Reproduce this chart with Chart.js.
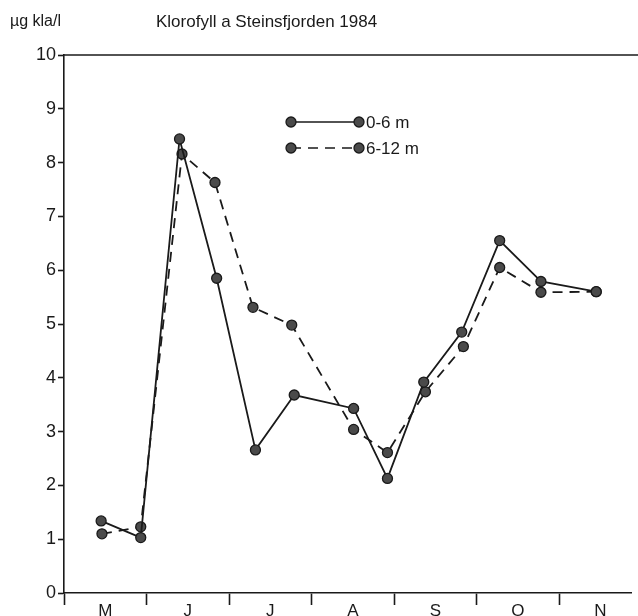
<!DOCTYPE html>
<html>
<head>
<meta charset="utf-8">
<script src="https://cdn.jsdelivr.net/npm/chart.js@4"></script>
<style>
  html, body { margin: 0; padding: 0; background: #fff; }
  #wrap { width: 638px; height: 616px; position: relative; }
</style>
</head>
<body>
<div id="wrap"><canvas id="c" width="638" height="616"></canvas></div>
<script>
// Month letters (May..Nov); x is in months since 1 May 1984
const months = ['M', 'J', 'J', 'A', 'S', 'O', 'N'];
const yTicks = [0, 1, 2, 3, 4, 5, 6, 7, 8, 9, 10];

// 0-6 m series
const xShallow = [0.45, 0.93, 1.40, 1.85, 2.32, 2.79, 3.51, 3.92, 4.36, 4.82, 5.28, 5.78, 6.45];
const yShallow = [1.34, 1.03, 8.44, 5.85, 2.66, 3.68, 3.43, 2.13, 3.92, 4.85, 6.55, 5.79, 5.60];

// 6-12 m series
const xDeep = [0.46, 0.93, 1.43, 1.83, 2.29, 2.76, 3.51, 3.92, 4.38, 4.84, 5.28, 5.78, 6.45];
const yDeep = [1.10, 1.23, 8.16, 7.63, 5.31, 4.98, 3.04, 2.61, 3.74, 4.58, 6.05, 5.59, 5.60];

const seriesNames = ['0-6 m', '6-12 m'];
const titleText = 'Klorofyll a Steinsfjorden 1984';
const unitText = '\u00b5g kla/l';

const INK = '#1a1a1a';
const FILL = '#4a4a4a';
const FONT = '"Liberation Sans", Arial, sans-serif';

function pts(xs, ys) { return xs.map((x, i) => ({ x: x, y: ys[i] })); }

const decor = {
  id: 'decor',
  afterDraw(chart) {
    const ctx = chart.ctx;
    const a = chart.chartArea;
    ctx.save();
    // top frame line
    ctx.strokeStyle = INK;
    ctx.lineWidth = 1.6;
    ctx.beginPath();
    ctx.moveTo(a.left, a.top);
    ctx.lineTo(chart.width, a.top);
    ctx.stroke();
    // titles
    ctx.fillStyle = INK;
    ctx.textBaseline = 'middle';
    ctx.textAlign = 'left';
    ctx.font = '16px ' + FONT;
    ctx.fillText(unitText, 10, 22);
    ctx.font = '17px ' + FONT;
    ctx.fillText(titleText, 156, 22);
    // legend
    const rows = [{ y: 122, dash: [] }, { y: 148, dash: [10, 7] }];
    rows.forEach((r, i) => {
      const x0 = 291, x1 = 359;
      ctx.setLineDash(r.dash);
      ctx.lineWidth = 1.7;
      ctx.strokeStyle = INK;
      ctx.beginPath();
      ctx.moveTo(x0, r.y);
      ctx.lineTo(x1, r.y);
      ctx.stroke();
      ctx.setLineDash([]);
      [x0, x1].forEach(px => {
        ctx.beginPath();
        ctx.arc(px, r.y, 5, 0, Math.PI * 2);
        ctx.fillStyle = FILL;
        ctx.fill();
        ctx.lineWidth = 1.3;
        ctx.strokeStyle = INK;
        ctx.stroke();
      });
      ctx.fillStyle = INK;
      ctx.font = '17px ' + FONT;
      ctx.fillText(seriesNames[i], 366, r.y + 1);
    });
    ctx.restore();
  }
};

new Chart(document.getElementById('c'), {
  type: 'line',
  data: {
    datasets: [
      {
        label: seriesNames[0],
        data: pts(xShallow, yShallow),
        borderColor: INK,
        borderWidth: 1.8,
        pointRadius: 5,
        pointBackgroundColor: FILL,
        pointBorderColor: INK,
        pointBorderWidth: 1.3,
        tension: 0,
        fill: false
      },
      {
        label: seriesNames[1],
        data: pts(xDeep, yDeep),
        borderColor: INK,
        borderWidth: 1.8,
        borderDash: [10, 7],
        pointRadius: 5,
        pointBackgroundColor: FILL,
        pointBorderColor: INK,
        pointBorderWidth: 1.3,
        tension: 0,
        fill: false
      }
    ]
  },
  options: {
    responsive: false,
    animation: false,
    layout: { padding: { top: 55, right: 0, left: 0, bottom: 0 } },
    plugins: {
      legend: { display: false },
      title: { display: false },
      tooltip: { enabled: false }
    },
    scales: {
      x: {
        type: 'linear',
        min: 0,
        max: 6.88,
        afterBuildTicks(scale) {
          const t = [];
          for (let i = 0; i < months.length; i++) {
            t.push({ value: i });
            t.push({ value: i + 0.5 });
          }
          scale.ticks = t;
        },
        afterFit(scale) { scale.height = 23; },
        ticks: {
          autoSkip: false,
          maxRotation: 0,
          padding: -4,
          color: INK,
          font: { family: FONT, size: 17 },
          callback(v) {
            const i = Math.floor(v);
            return (Math.abs(v - i - 0.5) < 1e-6 && months[i]) ? months[i] : '';
          }
        },
        grid: {
          drawOnChartArea: false,
          tickLength: 12,
          tickWidth: 1.6,
          tickColor(ctx) {
            const v = ctx.tick ? ctx.tick.value : 0;
            return Math.abs(v - Math.round(v)) < 1e-6 ? INK : 'rgba(0,0,0,0)';
          }
        },
        border: { display: true, color: INK, width: 1.6 }
      },
      y: {
        type: 'linear',
        min: 0,
        max: 10,
        afterBuildTicks(scale) { scale.ticks = yTicks.map(v => ({ value: v })); },
        afterFit(scale) { scale.width = 64; },
        ticks: {
          color: INK,
          padding: 2,
          font: { family: FONT, size: 18 }
        },
        grid: {
          drawOnChartArea: false,
          tickLength: 6,
          tickWidth: 1.6,
          tickColor: INK
        },
        border: { display: true, color: INK, width: 1.6 }
      }
    }
  },
  plugins: [decor]
});
</script>
</body>
</html>
